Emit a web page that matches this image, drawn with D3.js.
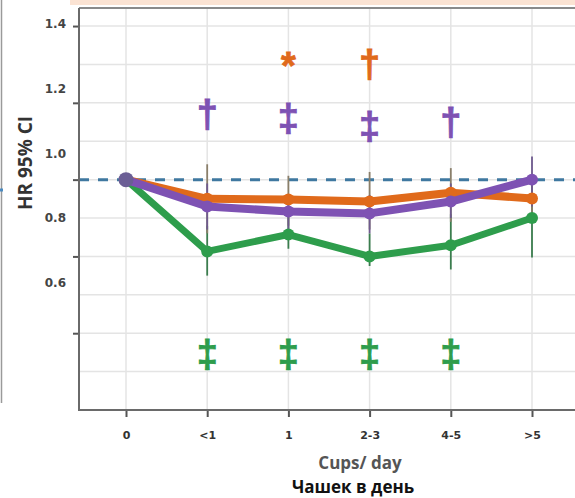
<!DOCTYPE html>
<html>
<head>
<meta charset="utf-8">
<script src="https://cdn.jsdelivr.net/npm/d3@7"></script>
<style>
  body { margin: 0; background: #fff; }
  svg { display: block; }
</style>
</head>
<body>
<div id="chart"></div>
<script>
// categories and values
var cups = ["0", "<1", "1", "2-3", "4-5", ">5"];
var yTickValues = [1.4, 1.2, 1.0, 0.8, 0.6];

var orangeHR = [1.0, 0.95, 0.948, 0.943, 0.966, 0.951];
var orangeLo = [1.0, 0.86, 0.88, 0.87, 0.89, 0.89];
var orangeHi = [1.0, 1.04, 1.01, 1.02, 1.03, 1.01];

var purpleHR = [1.0, 0.93, 0.917, 0.912, 0.943, 1.0];
var purpleLo = [1.0, 0.87, 0.87, 0.86, 0.90, 0.93];
var purpleHi = [1.0, 0.99, 0.96, 0.96, 0.99, 1.06];

var greenHR = [1.0, 0.813, 0.857, 0.80, 0.829, 0.90];
var greenLo = [1.0, 0.75, 0.82, 0.775, 0.766, 0.797];
var greenHi = [1.0, 0.88, 0.92, 0.86, 0.91, 0.99];

// significance marks: [category, symbol, y-value]
var orangeMarks = [["1", "*", 1.295], ["2-3", "\u2020", 1.30]];
var purpleMarks = [["<1", "\u2020", 1.17], ["1", "\u2021", 1.16], ["2-3", "\u2021", 1.14], ["4-5", "\u2020", 1.15]];
var greenMarks = [["<1", "\u2021", 0.545], ["1", "\u2021", 0.545], ["2-3", "\u2021", 0.545], ["4-5", "\u2021", 0.545]];

var W = 575, H = 498;
var plotLeft = 79, plotTop = 8, plotBottom = 410, plotRight = 590;

var svg = d3.select("#chart").append("svg")
    .attr("width", W)
    .attr("height", H);

var x = d3.scalePoint().domain(cups).range([126, 532]);
var y = d3.scaleLinear().domain([0.4, 1.447]).range([plotBottom, plotTop]);
// the tick labels in the picture sit off their tick marks
var labelY = d3.scaleLinear().domain([0.6, 1.4]).range([283, 24]);

// bits of neighbouring figure at the edges
svg.append("rect").attr("x", 70).attr("y", 0).attr("width", W).attr("height", 5).attr("fill", "#fbe3d3");
svg.append("line").attr("x1", 1.5).attr("x2", 1.5).attr("y1", 0).attr("y2", 403)
    .attr("stroke", "#9a9a9a").attr("stroke-width", 1.5);
svg.append("line").attr("x1", 0).attr("x2", 3).attr("y1", 190).attr("y2", 190)
    .attr("stroke", "#4a8ac0").attr("stroke-width", 3);

// gridlines
var grid = svg.append("g");
grid.selectAll("line.h")
    .data(d3.range(0.5, 1.45, 0.1))
    .enter().append("line")
    .attr("x1", plotLeft).attr("x2", plotRight)
    .attr("y1", d => y(d)).attr("y2", d => y(d))
    .attr("stroke", "#e4e4e4").attr("stroke-width", 1.5);
grid.selectAll("line.v")
    .data(cups)
    .enter().append("line")
    .attr("x1", d => x(d)).attr("x2", d => x(d))
    .attr("y1", plotTop).attr("y2", plotBottom)
    .attr("stroke", "#e4e4e4").attr("stroke-width", 1.5);

// frame top
svg.append("line").attr("x1", plotLeft).attr("x2", W).attr("y1", plotTop).attr("y2", plotTop)
    .attr("stroke", "#8a8a8a").attr("stroke-width", 2);

// reference line at HR = 1
svg.append("line")
    .attr("x1", plotLeft).attr("x2", W)
    .attr("y1", y(1)).attr("y2", y(1))
    .attr("stroke", "#3f78a0").attr("stroke-width", 3)
    .attr("stroke-dasharray", "10,9");

var series = [
    { name: "green", hr: greenHR, lo: greenLo, hi: greenHi, color: "#2e9d4c", bar: "#3b7d4e", width: 7 },
    { name: "orange", hr: orangeHR, lo: orangeLo, hi: orangeHi, color: "#e06a1b", bar: "#8a7f6a", width: 8 },
    { name: "purple", hr: purpleHR, lo: purpleLo, hi: purpleHi, color: "#7e52b3", bar: "#6e5a8e", width: 8 }
];

// error bars
series.forEach(function(s) {
    svg.append("g").selectAll("line")
        .data(cups.slice(1))
        .enter().append("line")
        .attr("x1", d => x(d)).attr("x2", d => x(d))
        .attr("y1", (d, i) => y(s.lo[i + 1]))
        .attr("y2", (d, i) => y(s.hi[i + 1]))
        .attr("stroke", s.bar).attr("stroke-width", 1.8);
});

var line = d3.line().x((d, i) => x(cups[i])).y(d => y(d));

series.forEach(function(s) {
    svg.append("path")
        .datum(s.hr)
        .attr("d", line)
        .attr("fill", "none")
        .attr("stroke", s.color)
        .attr("stroke-width", s.width)
        .attr("stroke-linejoin", "round");
    svg.append("g").selectAll("circle")
        .data(s.hr)
        .enter().append("circle")
        .attr("cx", (d, i) => x(cups[i]))
        .attr("cy", d => y(d))
        .attr("r", 6)
        .attr("fill", s.color);
});

// reference point
svg.append("circle").attr("cx", x("0")).attr("cy", y(1)).attr("r", 7.5).attr("fill", "#6b5e95");

// significance marks
function drawMarks(marks, color) {
    svg.append("g").selectAll("text")
        .data(marks)
        .enter().append("text")
        .attr("x", d => x(d[0]))
        .attr("y", d => y(d[2]))
        .attr("text-anchor", "middle")
        .attr("dominant-baseline", "central")
        .attr("font-family", "Liberation Sans")
        .attr("font-weight", "bold")
        .attr("font-size", 38)
        .attr("fill", color)
        .attr("stroke", color)
        .attr("stroke-width", 0.8)
        .text(d => d[1]);
}
drawMarks(orangeMarks, "#e06a1b");
drawMarks(purpleMarks, "#7e52b3");
drawMarks(greenMarks, "#2e9d4c");

// y axis: ticks from the scale, labels placed where the picture has them
var yAxis = d3.axisLeft(y).tickValues(yTickValues).tickSize(6).tickFormat("");
var gy = svg.append("g").attr("transform", "translate(" + plotLeft + ",0)").call(yAxis);
gy.select(".domain").remove();
gy.selectAll(".tick line").attr("stroke", "#555").attr("stroke-width", 2);
svg.append("line").attr("x1", plotLeft).attr("x2", plotLeft).attr("y1", plotTop).attr("y2", plotBottom + 1)
    .attr("stroke", "#6a6a6a").attr("stroke-width", 2);

svg.append("g").selectAll("text")
    .data(yTickValues)
    .enter().append("text")
    .attr("x", 66)
    .attr("y", d => labelY(d))
    .attr("text-anchor", "end")
    .attr("dominant-baseline", "central")
    .attr("font-family", "DejaVu Sans")
    .attr("font-weight", "bold")
    .attr("font-size", 12)
    .attr("fill", "#444")
    .text(d => d.toFixed(1));

// x axis
var xAxis = d3.axisBottom(x).tickSize(7).tickPadding(14);
var gx = svg.append("g").attr("transform", "translate(0," + plotBottom + ")").call(xAxis);
gx.select(".domain").remove();
gx.selectAll(".tick line").attr("stroke", "#555").attr("stroke-width", 2);
gx.selectAll(".tick text")
    .attr("font-family", "DejaVu Sans")
    .attr("font-weight", "bold")
    .attr("font-size", 11)
    .attr("fill", "#333");
svg.append("line").attr("x1", plotLeft - 1).attr("x2", plotRight).attr("y1", plotBottom).attr("y2", plotBottom)
    .attr("stroke", "#6a6a6a").attr("stroke-width", 2);

// titles
svg.append("text")
    .attr("transform", "translate(32,163) rotate(-90)")
    .attr("text-anchor", "middle")
    .attr("font-family", "Open Sans")
    .attr("font-weight", "bold")
    .attr("font-size", 19)
    .attr("fill", "#333")
    .text("HR 95% CI");

svg.append("text")
    .attr("x", 360).attr("y", 469)
    .attr("text-anchor", "middle")
    .attr("font-family", "Open Sans")
    .attr("font-weight", "bold")
    .attr("font-size", 17)
    .attr("fill", "#555")
    .text("Cups/ day");

svg.append("text")
    .attr("x", 353).attr("y", 493)
    .attr("text-anchor", "middle")
    .attr("font-family", "Open Sans")
    .attr("font-weight", "bold")
    .attr("font-size", 17)
    .attr("fill", "#111")
    .text("Чашек в день");
</script>
</body>
</html>
